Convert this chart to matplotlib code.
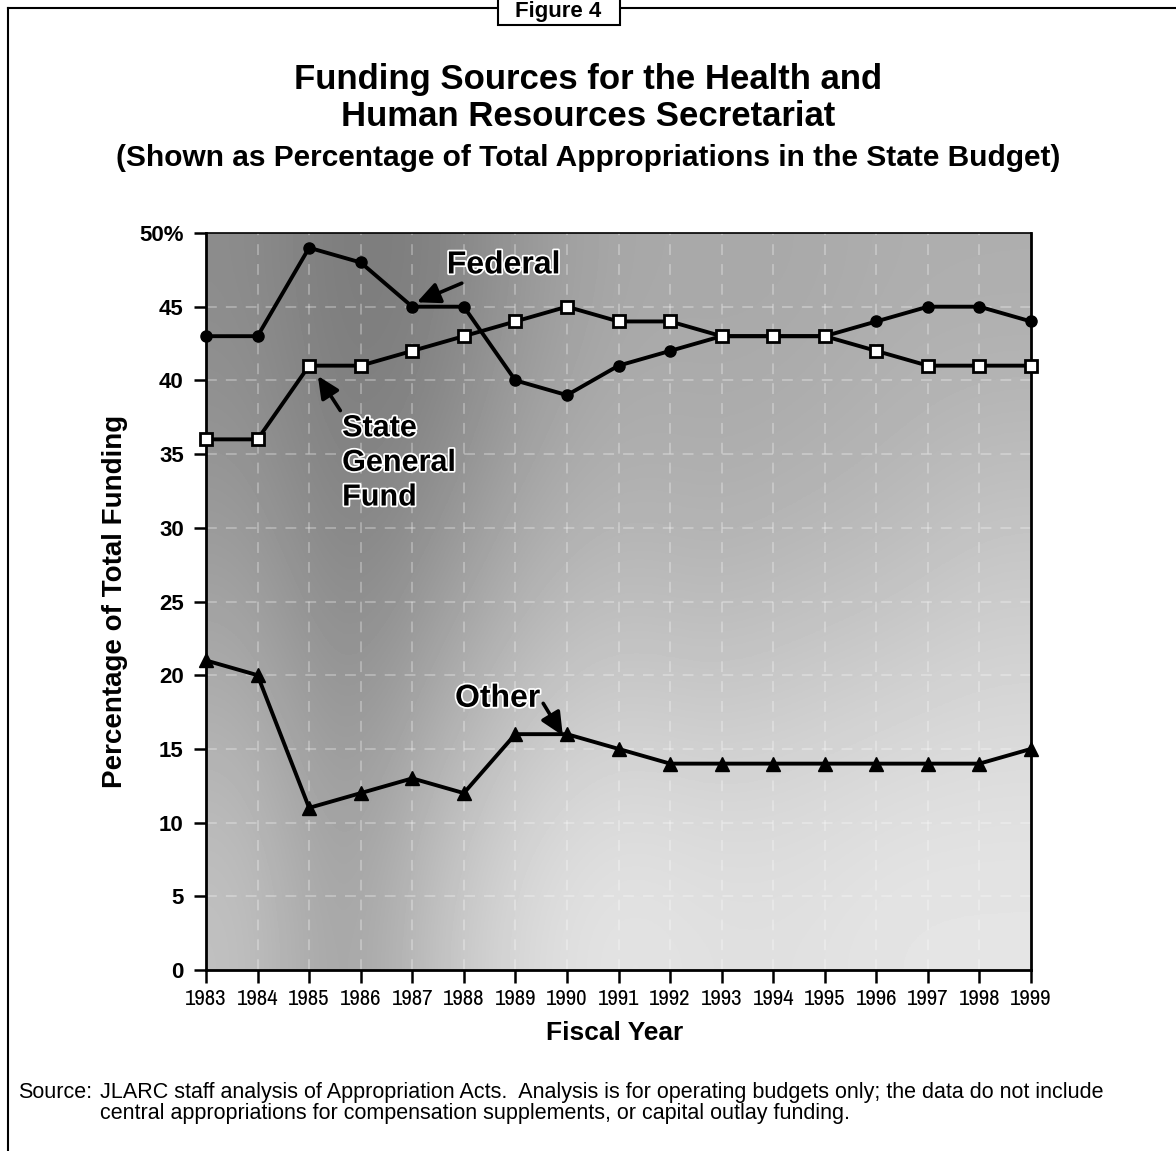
import matplotlib
matplotlib.use('Agg')
import matplotlib.pyplot as plt
from matplotlib.lines import Line2D
from matplotlib.patches import Rectangle
import matplotlib.patheffects as pe
from matplotlib import font_manager
from matplotlib.font_manager import FontProperties
import numpy as np

# ---------------- data ----------------
years = list(range(1983, 2000))
federal = [43, 43, 49, 48, 45, 45, 40, 39, 41, 42, 43, 43, 43, 44, 45, 45, 44]
state_gf = [36, 36, 41, 41, 42, 43, 44, 45, 44, 44, 43, 43, 43, 42, 41, 41, 41]
other = [21, 20, 11, 12, 13, 12, 16, 16, 15, 14, 14, 14, 14, 14, 14, 14, 15]
y_ticks = [0, 5, 10, 15, 20, 25, 30, 35, 40, 45, 50]
y_tick_labels = ['0', '5', '10', '15', '20', '25', '30', '35', '40', '45', '50%']
x_tick_labels = [str(y) for y in years]

title1 = "Funding Sources for the Health and"
title2 = "Human Resources Secretariat"
subtitle = "(Shown as Percentage of Total Appropriations in the State Budget)"
source_head = "Source:"
source_body = ("JLARC staff analysis of Appropriation Acts.  Analysis is for operating budgets only; the data do not include\n"
               "central appropriations for compensation supplements, or capital outlay funding.")

# ---------------- fonts ----------------
names = {f.name for f in font_manager.fontManager.ttflist}
SANS = 'Liberation Sans' if 'Liberation Sans' in names else 'DejaVu Sans'
plt.rcParams['font.family'] = [SANS, 'DejaVu Sans']


def find_narrow(bold=False):
    """Look for an installed narrow / condensed sans face."""
    best = None
    for f in font_manager.fontManager.ttflist:
        low = (f.name + ' ' + f.fname).lower()
        if 'mono' in low or 'serif' in low.replace('sans-serif', ''):
            continue
        narrow = ('narrow' in low) or ('condensed' in low and 'extra' not in low
                                        and 'ultra' not in low and 'semi' not in low)
        if not narrow or f.style != 'normal':
            continue
        w = f.weight if isinstance(f.weight, int) else {'normal': 400, 'regular': 400,
                                                          'bold': 700}.get(str(f.weight), 400)
        if bold != (w >= 600):
            continue
        rank = 0 if 'liberation' in low else (1 if 'narrow' in low else 2)
        if best is None or rank < best[0]:
            best = (rank, f.fname)
    return best[1] if best else None


narrow_reg = find_narrow(False)

W, H = 1176, 1151
fig = plt.figure(figsize=(W / 100, H / 100), dpi=100)
fig.patch.set_facecolor('white')


def fx(px):
    return px / W


def fy(py):
    return 1 - py / H


ax = fig.add_axes([fx(206), fy(970), fx(1031 - 206), (970 - 233) / H])

# background shading (decorative, imitating the scanned grey texture)
shade = np.array([
    [0.55, 0.48, 0.50, 0.60, 0.66, 0.66, 0.66, 0.68, 0.68],
    [0.60, 0.50, 0.56, 0.66, 0.70, 0.68, 0.70, 0.72, 0.76],
    [0.68, 0.56, 0.66, 0.76, 0.80, 0.78, 0.80, 0.82, 0.84],
    [0.76, 0.62, 0.76, 0.86, 0.90, 0.88, 0.88, 0.90, 0.90],
])
ax.imshow(shade, cmap='gray', vmin=0, vmax=1, extent=[1983, 1999, 0, 50],
          aspect='auto', interpolation='bicubic', zorder=0)

ax.set_xlim(1983, 1999)
ax.set_ylim(0, 50)

for yv in y_ticks[1:-1]:
    ax.axhline(yv, color='white', lw=1.3, ls=(0, (6, 5)), alpha=0.3, zorder=1)
for xv in years[1:-1]:
    ax.axvline(xv, color='white', lw=1.3, ls=(0, (6, 5)), alpha=0.3, zorder=1)

ax.plot(years, federal, color='black', lw=2.8, marker='o', ms=8,
        mfc='black', mec='black', zorder=4, clip_on=False)
ax.plot(years, state_gf, color='black', lw=2.8, marker='s', ms=8,
        mfc='white', mec='black', mew=2, zorder=5, clip_on=False)
ax.plot(years, other, color='black', lw=2.8, marker='^', ms=10,
        mfc='black', mec='black', zorder=4, clip_on=False)

ax.set_yticks(y_ticks)
ax.set_yticklabels(y_tick_labels, fontsize=16, fontweight='bold', family=SANS)
ax.set_xticks(years)
if narrow_reg:
    ax.set_xticklabels(x_tick_labels, fontproperties=FontProperties(fname=narrow_reg, size=16.5))
else:
    ax.set_xticklabels(x_tick_labels, fontsize=13, family=SANS)
ax.tick_params(axis='both', direction='out', length=9, width=1.8, color='black')
ax.tick_params(axis='y', pad=7)
ax.tick_params(axis='x', pad=5)
for s in ax.spines.values():
    s.set_linewidth(2)
    s.set_color('black')
ax.spines['top'].set_linewidth(1.2)

ax.set_ylabel("Percentage of Total Funding", fontsize=20, fontweight='bold')
ax.yaxis.set_label_coords((128 - 206) / 825, 0.5)
ax.set_xlabel("Fiscal Year", fontsize=19, fontweight='bold')
ax.xaxis.set_label_coords(0.495, (970 - 1021) / 737)

halo = [pe.withStroke(linewidth=2.5, foreground='white')]
arrowprops = dict(arrowstyle='-|>,head_length=0.6,head_width=0.28', color='black', lw=2.6,
                  shrinkA=0, shrinkB=0)

ax.annotate("Federal", xy=(1987.09, 45.3), xytext=(1987.67, 47.8),
            fontsize=23, fontweight='bold', ha='left', va='center',
            arrowprops=arrowprops, path_effects=halo, zorder=6)
ax.annotate("State\nGeneral\nFund", xy=(1985.17, 40.3), xytext=(1985.64, 34.4),
            fontsize=22, fontweight='bold', ha='left', va='center', linespacing=1.2,
            arrowprops=dict(arrowprops, relpos=(0, 1)), path_effects=halo, zorder=6)
ax.annotate("Other", xy=(1989.92, 15.9), xytext=(1987.83, 18.4),
            fontsize=23, fontweight='bold', ha='left', va='center',
            arrowprops=dict(arrowprops, relpos=(1, 0.5)), path_effects=halo, zorder=6)

# titles
fig.text(0.5, fy(80), title1, ha='center', va='center', fontsize=25, fontweight='bold')
fig.text(0.5, fy(117), title2, ha='center', va='center', fontsize=25, fontweight='bold')
fig.text(0.5, fy(158), subtitle, ha='center', va='center', fontsize=21.5, fontweight='bold')

# source note (head and body share the same block layout so line 1 aligns)
fig.text(fx(18), fy(1103), source_head + "\n ", ha='left', va='center', fontsize=15.5,
         linespacing=1.05)
fig.text(fx(100), fy(1103), source_body, ha='left', va='center', fontsize=15.5, linespacing=1.05)

# frame lines
fig.add_artist(Line2D([fx(8), fx(8)], [fy(8), 0], color='black', lw=1.5))
fig.add_artist(Line2D([fx(8), 1], [fy(8), fy(8)], color='black', lw=1.5))
fig.add_artist(Rectangle((fx(498), fy(25)), fx(122), 25 / H + 0.01, facecolor='white',
                         edgecolor='black', lw=1.5, transform=fig.transFigure, zorder=3))
fig.text(fx(558), fy(12), "Figure 4", ha='center', va='center', fontsize=16,
         fontweight='bold', zorder=4)

fig.savefig('out.png', dpi=100, facecolor='white')
